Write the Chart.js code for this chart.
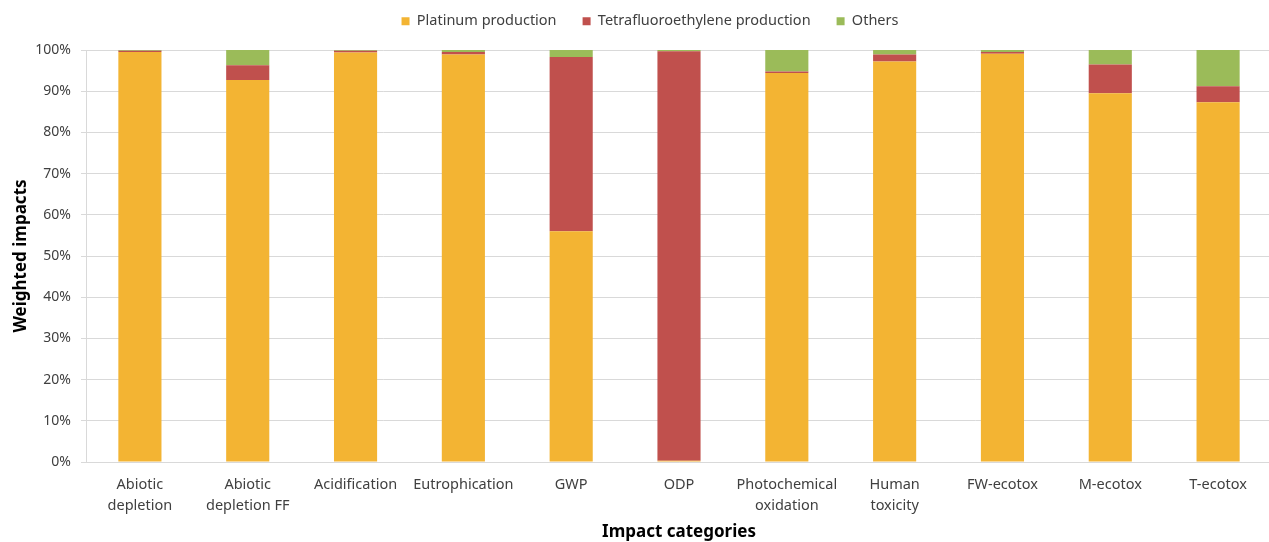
<!DOCTYPE html>
<html>
<head>
<meta charset="utf-8">
<script src="https://cdn.jsdelivr.net/npm/chart.js@4.4.1/dist/chart.umd.min.js"></script>
<style>
  html, body { margin: 0; padding: 0; background: #fff; overflow: hidden; }
  #wrap { position: relative; width: 1272px; height: 542px; }
</style>
</head>
<body>
<div id="wrap"><canvas id="c"></canvas></div>
<script>
// Impact categories (multi-line labels)
const categories = [
  ["Abiotic", "depletion"],
  ["Abiotic", "depletion FF"],
  "Acidification",
  "Eutrophication",
  "GWP",
  "ODP",
  ["Photochemical", "oxidation"],
  ["Human", "toxicity"],
  "FW-ecotox",
  "M-ecotox",
  "T-ecotox"
];

// Share of weighted impact per contributor (%)
const platinum = [99.5, 92.7, 99.4, 98.9, 56.0, 0.3, 94.4, 97.2, 99.1, 89.5, 87.3];
const tetrafluoroethylene = [0.3, 3.6, 0.4, 0.6, 42.3, 99.4, 0.4, 1.7, 0.4, 7.0, 3.9];
const others = [0.2, 3.7, 0.2, 0.5, 1.7, 0.3, 5.2, 1.1, 0.5, 3.5, 8.8];

const yTicks = [0, 10, 20, 30, 40, 50, 60, 70, 80, 90, 100];

const FONT = "'Noto Sans', 'DejaVu Sans', sans-serif";

// Legend: wide spacing between items, compact band above the plot
const legendBand = {
  id: 'legendBand',
  afterInit(chart) {
    const lg = chart.legend;
    const fit = lg.fit.bind(lg);
    lg.fit = function () { fit(); this.height = 50; };
  },
  afterLayout(chart) {
    const lg = chart.legend;
    lg.top -= 12; lg.bottom -= 12;
    lg.left += 14; lg.right += 14;
  }
};

new Chart(document.getElementById('c'), {
  type: 'bar',
  data: {
    labels: categories,
    datasets: [
      { label: 'Platinum production', data: platinum, backgroundColor: '#F3B433' },
      { label: 'Tetrafluoroethylene production', data: tetrafluoroethylene, backgroundColor: '#C0504D' },
      { label: 'Others', data: others, backgroundColor: '#9BBB59' }
    ]
  },
  plugins: [legendBand],
  options: {
    responsive: true,
    maintainAspectRatio: false,
    animation: false,
    layout: { padding: 0 },
    datasets: {
      bar: { barPercentage: 0.4, categoryPercentage: 1.0, borderWidth: 0 }
    },
    plugins: {
      legend: {
        position: 'top',
        labels: {
          boxWidth: 8,
          boxHeight: 8,
          padding: 26,
          color: '#404040',
          font: { family: FONT, size: 14.5 }
        }
      },
      tooltip: { enabled: false }
    },
    scales: {
      x: {
        stacked: true,
        grid: { display: false, drawTicks: false },
        border: { display: true, color: '#d9d9d9', width: 1 },
        ticks: {
          color: '#404040',
          padding: 12,
          maxRotation: 0,
          autoSkip: false,
          font: { family: FONT, size: 14.5, lineHeight: 1.45 }
        },
        title: {
          display: true,
          text: 'Impact categories',
          color: '#000',
          padding: { top: 4, bottom: 0 },
          font: { family: FONT, size: 17, weight: 'bold' }
        },
        afterFit: s => { s.height = 80; }
      },
      y: {
        stacked: true,
        min: 0,
        max: 100,
        afterBuildTicks: s => { s.ticks = yTicks.map(v => ({ value: v })); },
        grid: { color: '#d9d9d9', lineWidth: 1, tickLength: 5 },
        border: { display: true, color: '#d9d9d9', width: 1 },
        ticks: {
          color: '#404040',
          padding: 10,
          font: { family: FONT, size: 14 },
          callback: v => v + '%'
        },
        title: {
          display: true,
          text: 'Weighted impacts',
          color: '#000',
          padding: { top: 11, bottom: 4 },
          font: { family: FONT, size: 17, weight: 'bold' }
        },
        afterFit: s => { s.width = 86; }
      }
    }
  }
});
</script>
</body>
</html>
